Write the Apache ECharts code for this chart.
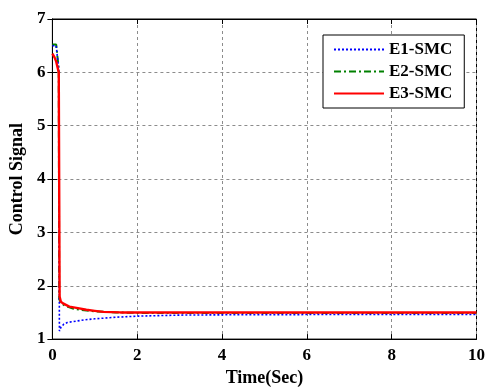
<!DOCTYPE html>
<html><head><meta charset="utf-8">
<script src="https://cdn.jsdelivr.net/npm/echarts@6/dist/echarts.min.js"></script>
<style>html,body{margin:0;padding:0;background:#fff}#c{width:488px;height:392px}</style>
</head><body><div id="c"></div>
<script>
var xTicks = [0, 2, 4, 6, 8, 10];
var yTicks = [1, 2, 3, 4, 5, 6, 7];
var seriesNames = ['E1-SMC', 'E2-SMC', 'E3-SMC'];

var t1 = [0, 0.09, 0.15, 0.165, 0.2, 0.27, 0.35, 0.5, 0.75, 1, 1.5, 2, 2.5, 3, 4, 6, 8, 10];
var e1 = [6.5, 6.5, 6.05, 1.15, 1.22, 1.28, 1.31, 1.33, 1.36, 1.38, 1.41, 1.43, 1.44, 1.45, 1.455, 1.46, 1.46, 1.46];

var t2 = [0, 0.09, 0.15, 0.16, 0.2, 0.3, 0.5, 0.75, 1, 1.5, 2, 3, 10];
var e2 = [6.52, 6.52, 6.05, 1.75, 1.68, 1.62, 1.57, 1.54, 1.52, 1.5, 1.49, 1.49, 1.49];

var t3 = [0, 0.05, 0.09, 0.15, 0.17, 0.2, 0.25, 0.4, 0.6, 0.8, 1, 1.2, 1.6, 2, 10];
var e3 = [6.35, 6.28, 6.2, 6.0, 1.8, 1.7, 1.67, 1.61, 1.58, 1.55, 1.53, 1.51, 1.5, 1.5, 1.5];

function zip(t, v) { return t.map(function (x, i) { return [x, v[i]]; }); }

var font = 'Liberation Serif';
var gridLine = { show: true, lineStyle: { color: '#8c8c8c', type: [3, 3], width: 1 } };

var chart = echarts.init(document.getElementById('c'), null, { renderer: 'canvas' });
chart.setOption({
  animation: false,
  backgroundColor: '#fff',
  grid: { left: 49, right: 9, top: 19, bottom: 49, show: true, borderColor: '#000', borderWidth: 1, backgroundColor: 'transparent' },
  legend: {
    orient: 'vertical', left: 323, top: 35,
    padding: [6, 12, 6, 10], itemGap: 5,
    itemWidth: 50, itemHeight: 14,
    borderColor: '#000', borderWidth: 1, backgroundColor: '#fff',
    itemStyle: { opacity: 0 },
    textStyle: { fontFamily: font, fontWeight: 'bold', fontSize: 17, color: '#000' },
    data: seriesNames
  },
  xAxis: [{
    type: 'value', min: xTicks[0], max: xTicks[xTicks.length - 1], interval: 2,
    name: 'Time(Sec)', nameLocation: 'middle', nameGap: 29,
    nameTextStyle: { fontFamily: font, fontWeight: 'bold', fontSize: 18, color: '#000' },
    axisLine: { show: true, lineStyle: { color: '#000' } },
    axisTick: { show: true, inside: true, length: 5, lineStyle: { color: '#000' } },
    axisLabel: { fontFamily: font, fontWeight: 'bold', fontSize: 17, color: '#000', margin: 8 },
    splitLine: gridLine
  }, {
    type: 'value', position: 'top', min: xTicks[0], max: xTicks[xTicks.length - 1], interval: 2,
    axisLine: { show: true, lineStyle: { color: '#000' } },
    axisTick: { show: true, inside: true, length: 5, lineStyle: { color: '#000' } },
    axisLabel: { show: false }, splitLine: { show: false }
  }],
  yAxis: [{
    type: 'value', min: yTicks[0], max: yTicks[yTicks.length - 1], interval: 1,
    name: 'Control Signal', nameLocation: 'middle', nameGap: 25,
    nameTextStyle: { fontFamily: font, fontWeight: 'bold', fontSize: 18, color: '#000' },
    axisLine: { show: true, lineStyle: { color: '#000' } },
    axisTick: { show: true, inside: true, length: 5, lineStyle: { color: '#000' } },
    axisLabel: { fontFamily: font, fontWeight: 'bold', fontSize: 17, color: '#000', margin: 7 },
    splitLine: gridLine
  }, {
    type: 'value', position: 'right', min: yTicks[0], max: yTicks[yTicks.length - 1], interval: 1,
    axisLine: { show: true, lineStyle: { color: '#000' } },
    axisTick: { show: true, inside: true, length: 5, lineStyle: { color: '#000' } },
    axisLabel: { show: false }, splitLine: { show: false }
  }],
  series: [{
    name: seriesNames[0], type: 'line', symbol: 'none', data: zip(t1, e1),
    itemStyle: { color: '#0000ff' },
    lineStyle: { color: '#0000ff', width: 1.6, type: [2, 2] }, z: 3
  }, {
    name: seriesNames[1], type: 'line', symbol: 'none', data: zip(t2, e2),
    itemStyle: { color: '#008000' },
    lineStyle: { color: '#008000', width: 2, type: [7, 3, 2, 3] }, z: 2
  }, {
    name: seriesNames[2], type: 'line', symbol: 'none', data: zip(t3, e3),
    itemStyle: { color: '#ff0000' },
    lineStyle: { color: '#ff0000', width: 2.4 }, z: 4
  }]
});
</script></body></html>
